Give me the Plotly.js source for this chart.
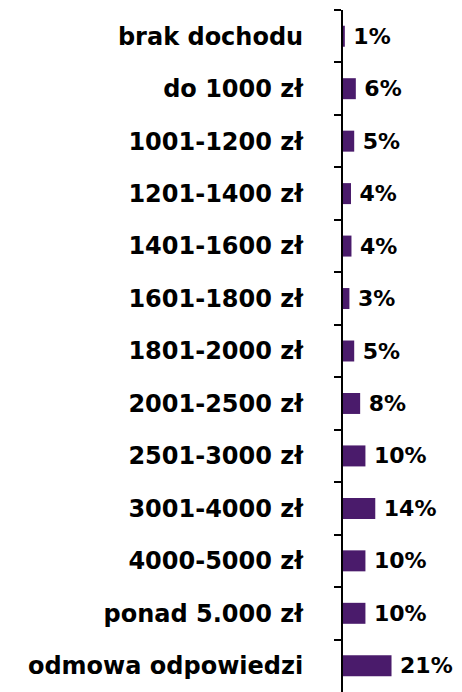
<!DOCTYPE html>
<html>
<head>
<meta charset="utf-8">
<script src="https://cdn.plot.ly/plotly-3.0.1.min.js"></script>
<style>html,body{margin:0;padding:0;background:#fff;}#chart{width:462px;height:692px;}</style>
</head>
<body>
<div id="chart"></div>
<script>
const categories = [
  'brak dochodu', 'do 1000 zł', '1001-1200 zł', '1201-1400 zł', '1401-1600 zł',
  '1601-1800 zł', '1801-2000 zł', '2001-2500 zł', '2501-3000 zł', '3001-4000 zł',
  '4000-5000 zł', 'ponad 5.000 zł', 'odmowa odpowiedzi'
];
const shares = [0.8, 5.6, 4.9, 3.5, 3.7, 2.8, 4.9, 7.5, 9.8, 14.1, 9.8, 9.8, 21.2];
const shareLabels = ['1%', '6%', '5%', '4%', '4%', '3%', '5%', '8%', '10%', '14%', '10%', '10%', '21%'];

const trace = {
  type: 'bar',
  orientation: 'h',
  y: categories,
  x: shares,
  width: 0.4,
  marker: {color: '#4a1b6b'},
  text: shareLabels.map(s => '\u2005' + s),
  textposition: 'outside',
  cliponaxis: false,
  constraintext: 'none',
  textfont: {family: 'DejaVu Sans', size: 22, color: '#000', weight: 'bold'},
  hoverinfo: 'none'
};

const layout = {
  width: 462,
  height: 692,
  margin: {l: 343, r: 0, t: 10, b: 0},
  paper_bgcolor: '#fff',
  plot_bgcolor: '#fff',
  showlegend: false,
  bargap: 0.6,
  xaxis: {
    range: [0, 52],
    showgrid: false, zeroline: false, showline: false,
    showticklabels: false, ticks: '', fixedrange: true
  },
  yaxis: {
    type: 'category',
    categoryorder: 'array',
    categoryarray: categories,
    autorange: 'reversed',
    showline: true, linewidth: 2, linecolor: '#000',
    ticks: 'outside', tickson: 'boundaries', ticklen: 7, tickwidth: 2, tickcolor: '#000',
    showgrid: false, zeroline: false,
    ticklabelstandoff: 33,
    tickfont: {family: 'DejaVu Sans', size: 24, color: '#000', weight: 'bold'}
  }
};

Plotly.newPlot('chart', [trace], layout, {staticPlot: true, displayModeBar: false});
</script>
</body>
</html>
